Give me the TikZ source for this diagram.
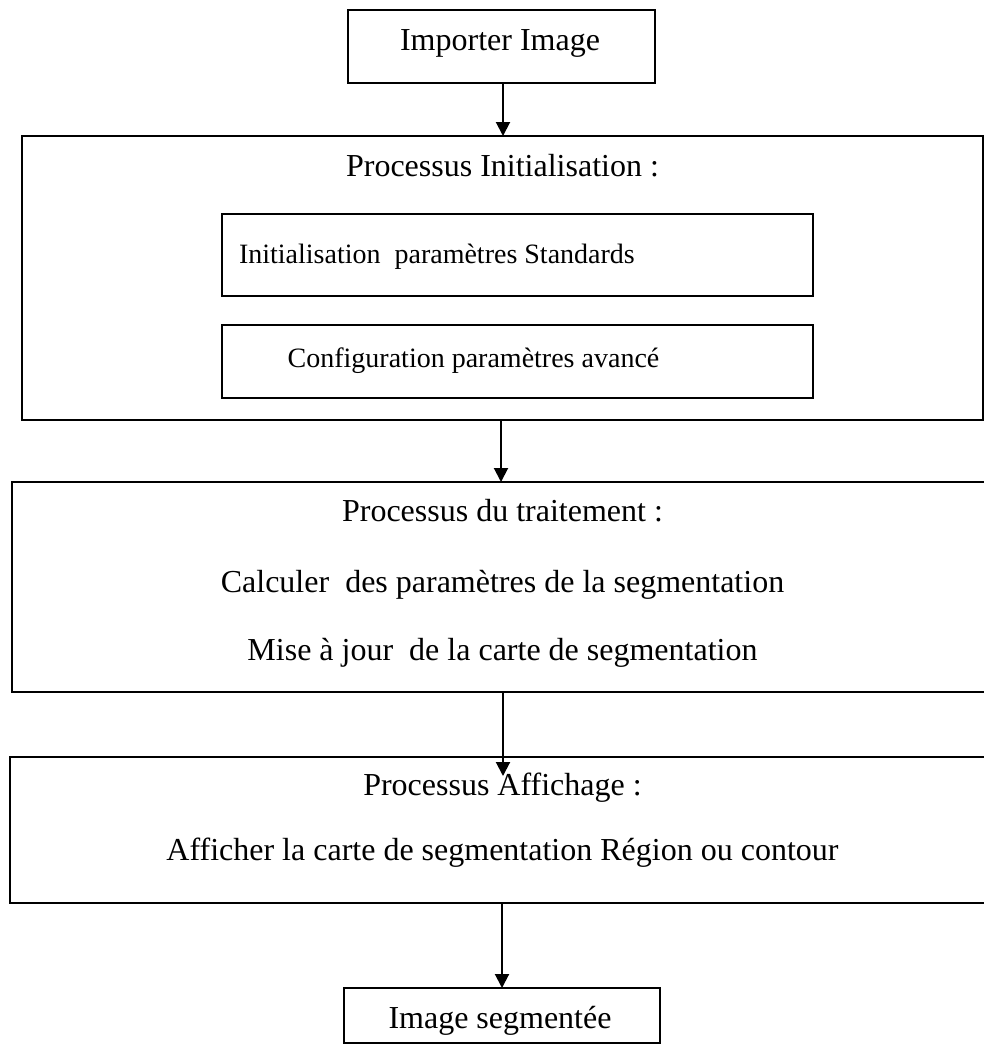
\documentclass[tikz,border=0pt]{standalone}
\usepackage{fontspec}
\setmainfont{Liberation Serif}
\usetikzlibrary{arrows.meta}
\begin{document}
\begin{tikzpicture}[x=1pt,y=-1pt,
  boxnode/.style={draw=black, line width=2pt, inner sep=0pt, outer sep=0pt},
  txt/.style={anchor=base, inner sep=0pt, outer sep=0pt, font=\fontsize{32}{38}\selectfont},
  smalltxt/.style={inner sep=0pt, outer sep=0pt, font=\fontsize{28}{34}\selectfont},
  arr/.style={line width=2pt, -{Triangle[width=14pt,length=14pt]}}]
\useasboundingbox (0,0) rectangle (984,1045);
\fill[white] (0,0) rectangle (984,1045);
% boxes
\node[boxnode, minimum width=307pt, minimum height=73pt] (imp) at (501.5,46.5) {};
\node[boxnode, minimum width=961pt, minimum height=284pt] (init) at (502.5,278) {};
\node[boxnode, minimum width=591pt, minimum height=82pt] (std) at (517.5,255) {};
\node[boxnode, minimum width=591pt, minimum height=73pt] (adv) at (517.5,361.5) {};
\node[boxnode, minimum width=984pt, minimum height=210pt] (trt) at (504,587) {};
\node[boxnode, minimum width=986pt, minimum height=146pt] (aff) at (503,830) {};
\node[boxnode, minimum width=316pt, minimum height=55pt] (seg) at (502,1015.5) {};
% texts
\node[txt] (timp) at (500,50) {Importer Image};
\node[txt] (tinit) at (502.5,176) {Processus Initialisation :};
\node[smalltxt, anchor=base west] (tstd) at (239,263) {Initialisation\ \ paramètres Standards};
\node[smalltxt, anchor=base] (tadv) at (473.5,367) {Configuration paramètres avancé};
\node[txt] (ttrt) at (502.5,521) {Processus du traitement :};
\node[txt] (tcal) at (502.5,592) {Calculer\ \ des paramètres de la segmentation};
\node[txt] (tmaj) at (502.5,660) {Mise à jour\ \ de la carte de segmentation};
\node[txt] (taff) at (502.5,795) {Processus Affichage :};
\node[txt] (tafc) at (502.5,860) {Afficher la carte de segmentation Région ou contour};
\node[txt] (tseg) at (500,1028) {Image segmentée};
% arrows
\coordinate (e3) at (503,776);
\draw[arr] (imp.south -| 503,0) -- (init.north -| 503,0);
\draw[arr] (init.south -| 501,0) -- (trt.north -| 501,0);
\draw[arr] (trt.south -| 503,0) -- (e3);
\draw[arr] (aff.south -| 502,0) -- (seg.north -| 502,0);
\end{tikzpicture}
\end{document}
